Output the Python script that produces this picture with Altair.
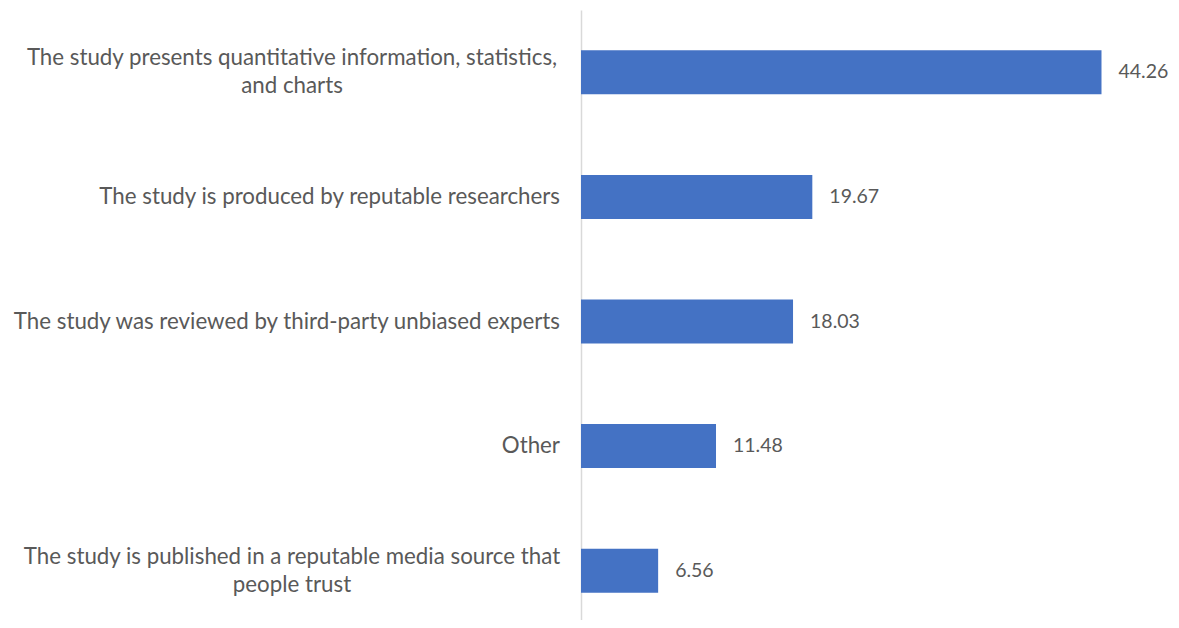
import altair as alt
import pandas as pd

categories = [
    "The study presents quantitative information, statistics,|and charts",
    "The study is produced by reputable researchers",
    "The study was reviewed by third-party unbiased experts",
    "Other",
    "The study is published in a reputable media source that|people trust",
]
values = [44.26, 19.67, 18.03, 11.48, 6.56]
multiline = [True, False, False, False, True]

df = pd.DataFrame({"cat": categories, "val": values, "multi": multiline})

FONT = "Lato"
BAR = "#4472C4"
TXT = "#595959"

y = alt.Y("cat:N", sort=categories,
          axis=alt.Axis(labels=False, ticks=False, title=None, grid=False,
                        domainColor="#D9D9D9", domainWidth=1.5),
          scale=alt.Scale(paddingInner=0.647, paddingOuter=0.3235, range=[0, 623]))

base = alt.Chart(df)

bars = base.mark_bar(color=BAR).encode(
    x=alt.X("val:Q", scale=alt.Scale(domain=[0, 50]), axis=None),
    y=y,
)

vals = base.mark_text(align="left", baseline="middle", dx=17, font=FONT,
                      fontSize=19.5, color=TXT).encode(
    x="val:Q", y=y, text=alt.Text("val:Q", format=".2f"))

single = base.transform_filter("datum.multi == false").mark_text(
    align="right", baseline="middle", font=FONT, fontSize=22.3, color=TXT).encode(
    x=alt.value(-21), y=y, text="cat:N")

multi = base.transform_filter("datum.multi == true").mark_text(
    align="center", baseline="middle", lineBreak="|", lineHeight=28, dy=-14,
    font=FONT, fontSize=22.3, color=TXT).encode(
    x=alt.value(-289), y=y, text="cat:N")

chart = alt.layer(bars, vals, single, multi).properties(
    width=588, height=610,
    autosize=alt.AutoSizeParams(type="none"),
    padding={"left": 573, "top": 2, "right": 0, "bottom": 0},
).configure_view(stroke=None)

chart.save("out.html", embed_options={"renderer": "svg", "actions": False})
